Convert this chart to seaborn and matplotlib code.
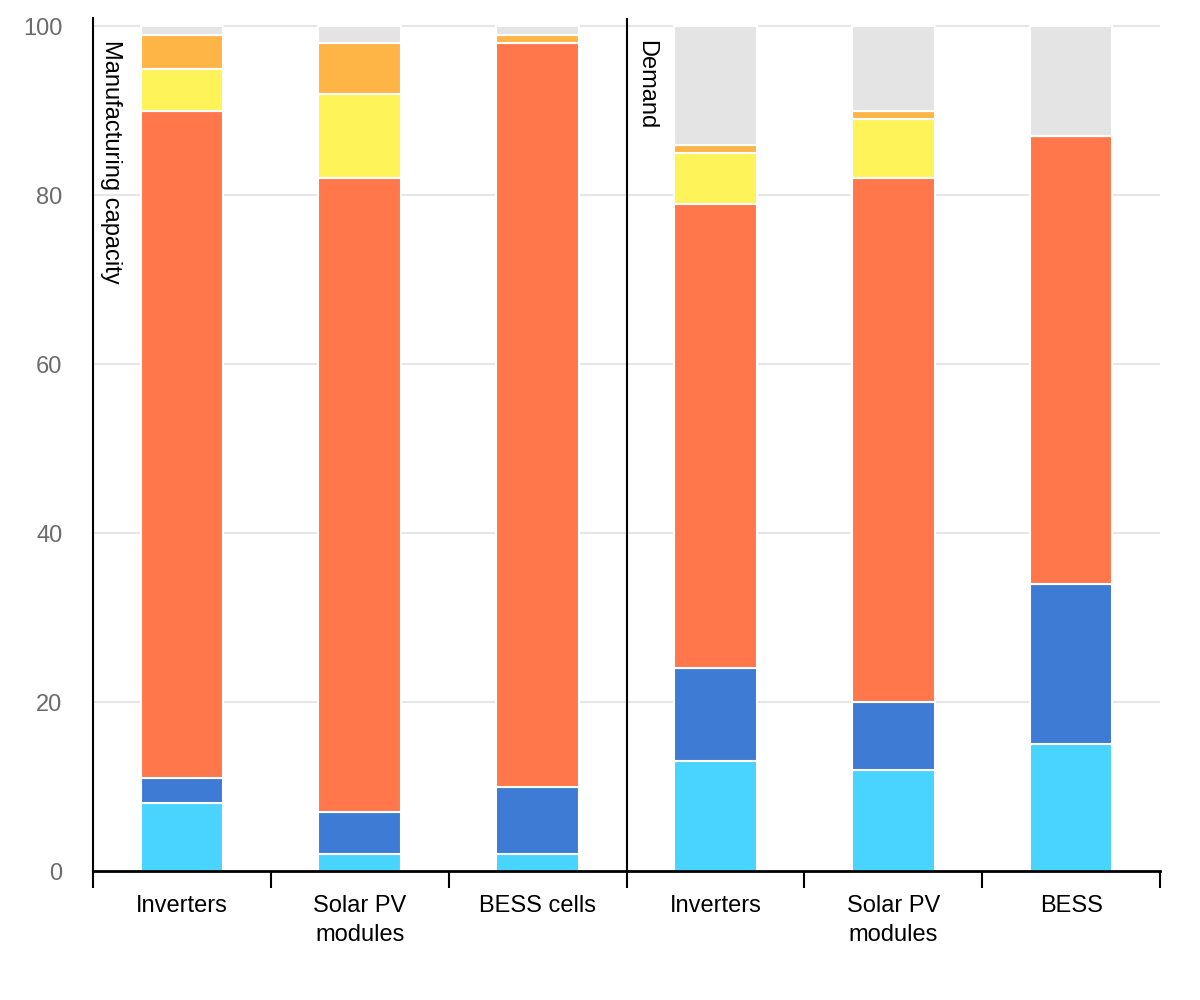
import matplotlib
matplotlib.use("Agg")
import matplotlib.pyplot as plt
import seaborn as sns
import pandas as pd
import numpy as np

# categories (two panels: manufacturing capacity | demand)
groups = ["Manufacturing capacity", "Demand"]
cat_ids = ["m_inv", "m_pv", "m_bess", "d_inv", "d_pv", "d_bess"]
cat_labels = ["Inverters", "Solar PV\nmodules", "BESS cells",
              "Inverters", "Solar PV\nmodules", "BESS"]

# shares in %, bottom to top
series = ["Region 1", "Region 2", "China", "Region 4", "Region 5", "Rest of world"]
region1 = [8, 2, 2, 13, 12, 15]
region2 = [3, 5, 8, 11, 8, 19]
china = [79, 75, 88, 55, 62, 53]
region4 = [5, 10, 0, 6, 7, 0]
region5 = [4, 6, 1, 1, 1, 0]
rest = [1, 2, 1, 14, 10, 13]
colors = ["#48D4FE", "#3E7BD4", "#FF774B", "#FFF35A", "#FFB545", "#E4E4E4"]

values = [region1, region2, china, region4, region5, rest]

df = pd.DataFrame({
    "category": np.tile(cat_ids, len(series)),
    "series": np.repeat(series, len(cat_ids)),
    "value": np.concatenate(values),
})

sns.set_style("white")
plt.rcParams["font.family"] = ["Liberation Sans", "DejaVu Sans"]

fig = plt.figure(figsize=(12, 10), dpi=100)
ax = fig.add_axes([0.0775, 0.129, 0.8892, 0.853])

# horizontal grid
for y in [20, 40, 60, 80, 100]:
    ax.axhline(y, color="#e6e6e6", lw=1.5, zorder=0)

bottom = np.zeros(len(cat_ids))
for name, col in zip(series, colors):
    sub = df[df["series"] == name]
    sns.barplot(data=sub, x="category", y="value", order=cat_ids,
                bottom=bottom, color=col, width=0.465, edgecolor="white",
                linewidth=1.5, saturation=1, ax=ax, zorder=2)
    bottom = bottom + sub["value"].to_numpy()

ax.set_xlim(-0.5, 5.5)
ax.set_ylim(0, 101)
ax.set_xlabel("")
ax.set_ylabel("")

# y axis
ax.set_yticks([0, 20, 40, 60, 80, 100])
ax.tick_params(axis="y", length=0, pad=22, labelsize=17, labelcolor="#6b6b6b")

# x axis: labels at centres, tick marks at boundaries
ax.set_xticks(range(len(cat_ids)))
ax.set_xticklabels(cat_labels, linespacing=1.45)
ax.tick_params(axis="x", which="major", bottom=False, length=0, pad=17,
               labelsize=17, labelcolor="black")
ax.set_xticks(np.arange(-0.5, 6, 1), minor=True)
ax.tick_params(axis="x", which="minor", bottom=True, length=12.5, width=1.5,
               color="black", direction="out")

for s in ["top", "right"]:
    ax.spines[s].set_visible(False)
ax.spines["left"].set_color("black")
ax.spines["left"].set_linewidth(1.5)
ax.spines["bottom"].set_color("black")
ax.spines["bottom"].set_linewidth(2)

# divider between panels
ax.axvline(2.5, color="black", lw=1.5, zorder=3)

ax.text(-0.46, 98.4, groups[0], rotation=-90, ha="left", va="top",
        fontsize=17, color="black", zorder=4)
ax.text(2.55, 98.4, groups[1], rotation=-90, ha="left", va="top",
        fontsize=17, color="black", zorder=4)

fig.savefig("out.png", dpi=100)
